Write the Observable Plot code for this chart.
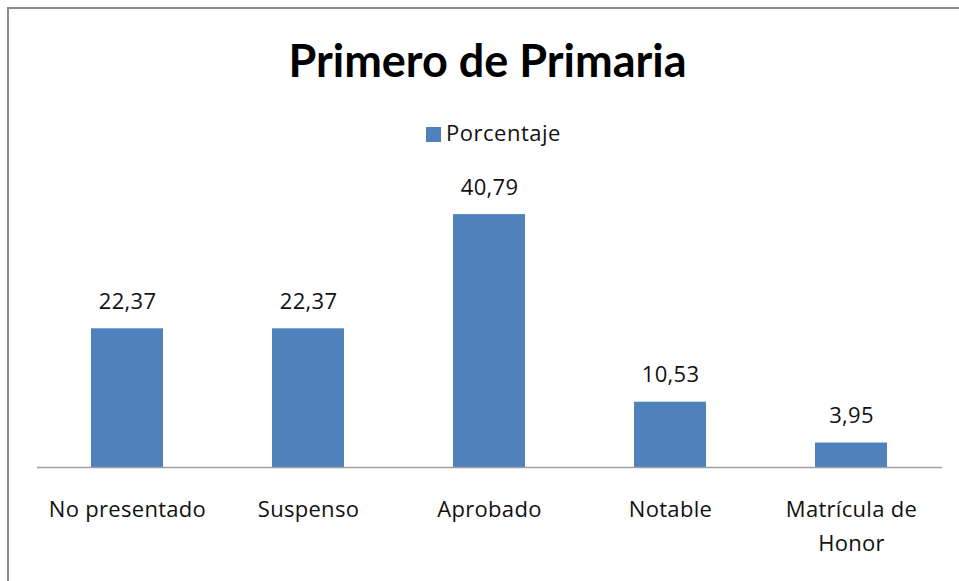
<!DOCTYPE html>
<html>
<head>
<meta charset="utf-8">
<script src="https://cdn.jsdelivr.net/npm/d3@7"></script>
<script src="https://cdn.jsdelivr.net/npm/@observablehq/plot@0.6"></script>
<style>
  html, body { margin: 0; padding: 0; background: #fff; }
  #page { position: relative; width: 959px; height: 581px; overflow: hidden; background: #fff; font-family: "Open Sans", sans-serif; }
  #frame { position: absolute; left: 7px; top: 7px; width: 2000px; height: 2000px; border: 2px solid #8c8c8c; box-sizing: border-box; }
  #title { position: absolute; left: 0; width: 975px; top: 38px; text-align: center; font-family: Lato, sans-serif; font-size: 45px; line-height: 44px; font-weight: 700; color: #000; white-space: nowrap; }
  #legend { position: absolute; left: 0; width: 987px; top: 120px; text-align: center; font-size: 22px; line-height: 24px; letter-spacing: 0.5px; color: #111; white-space: nowrap; }
  #legend .sw { display: inline-block; width: 15px; height: 15px; background: #4f81bd; margin-right: 5px; vertical-align: -1px; }
  #chart { position: absolute; left: 0; top: 0; }
  #chart svg text { letter-spacing: 0.3px; }
</style>
</head>
<body>
<div id="page">
  <div id="frame"></div>
  <div id="chart"></div>
  <div id="title"></div>
  <div id="legend"></div>
</div>
<script>
const chartTitle = "Primero de Primaria";
const seriesName = "Porcentaje";
const categories = ["No presentado", "Suspenso", "Aprobado", "Notable", "Matrícula de\nHonor"];
const values = [22.37, 22.37, 40.79, 10.53, 3.95];

const data = categories.map((c, i) => ({category: c, value: values[i]}));
const esFormat = d3.formatLocale({decimal: ",", thousands: ".", grouping: [3], currency: ["", "€"]}).format(".2f");

document.getElementById("title").textContent = chartTitle;
document.getElementById("legend").innerHTML = '<span class="sw"></span>' + seriesName;

const chart = Plot.plot({
  width: 959,
  height: 581,
  marginLeft: 37,
  marginRight: 17,
  marginTop: 188,
  marginBottom: 114,
  style: {fontFamily: "'Open Sans', sans-serif", fontSize: "22px", color: "#000", background: "transparent"},
  x: {domain: categories, paddingInner: 0.6, paddingOuter: 0.3, label: null, axis: null},
  y: {domain: [0, 45], axis: null},
  marks: [
    Plot.barY(data, {x: "category", y: "value", fill: "#4f81bd"}),
    Plot.ruleY([0], {stroke: "#a0a0a0", strokeWidth: 1.5}),
    Plot.text(data, {x: "category", y: "value", text: d => esFormat(d.value), lineAnchor: "bottom", dy: -20, fontSize: 22, fill: "#111"}),
    Plot.axisX({domain: categories, tickSize: 0, tickPadding: 25, fontSize: 22, lineHeight: 1.55, label: null, fill: "#111", textOverflow: null})
  ]
});
document.getElementById("chart").appendChild(chart);
</script>
</body>
</html>
